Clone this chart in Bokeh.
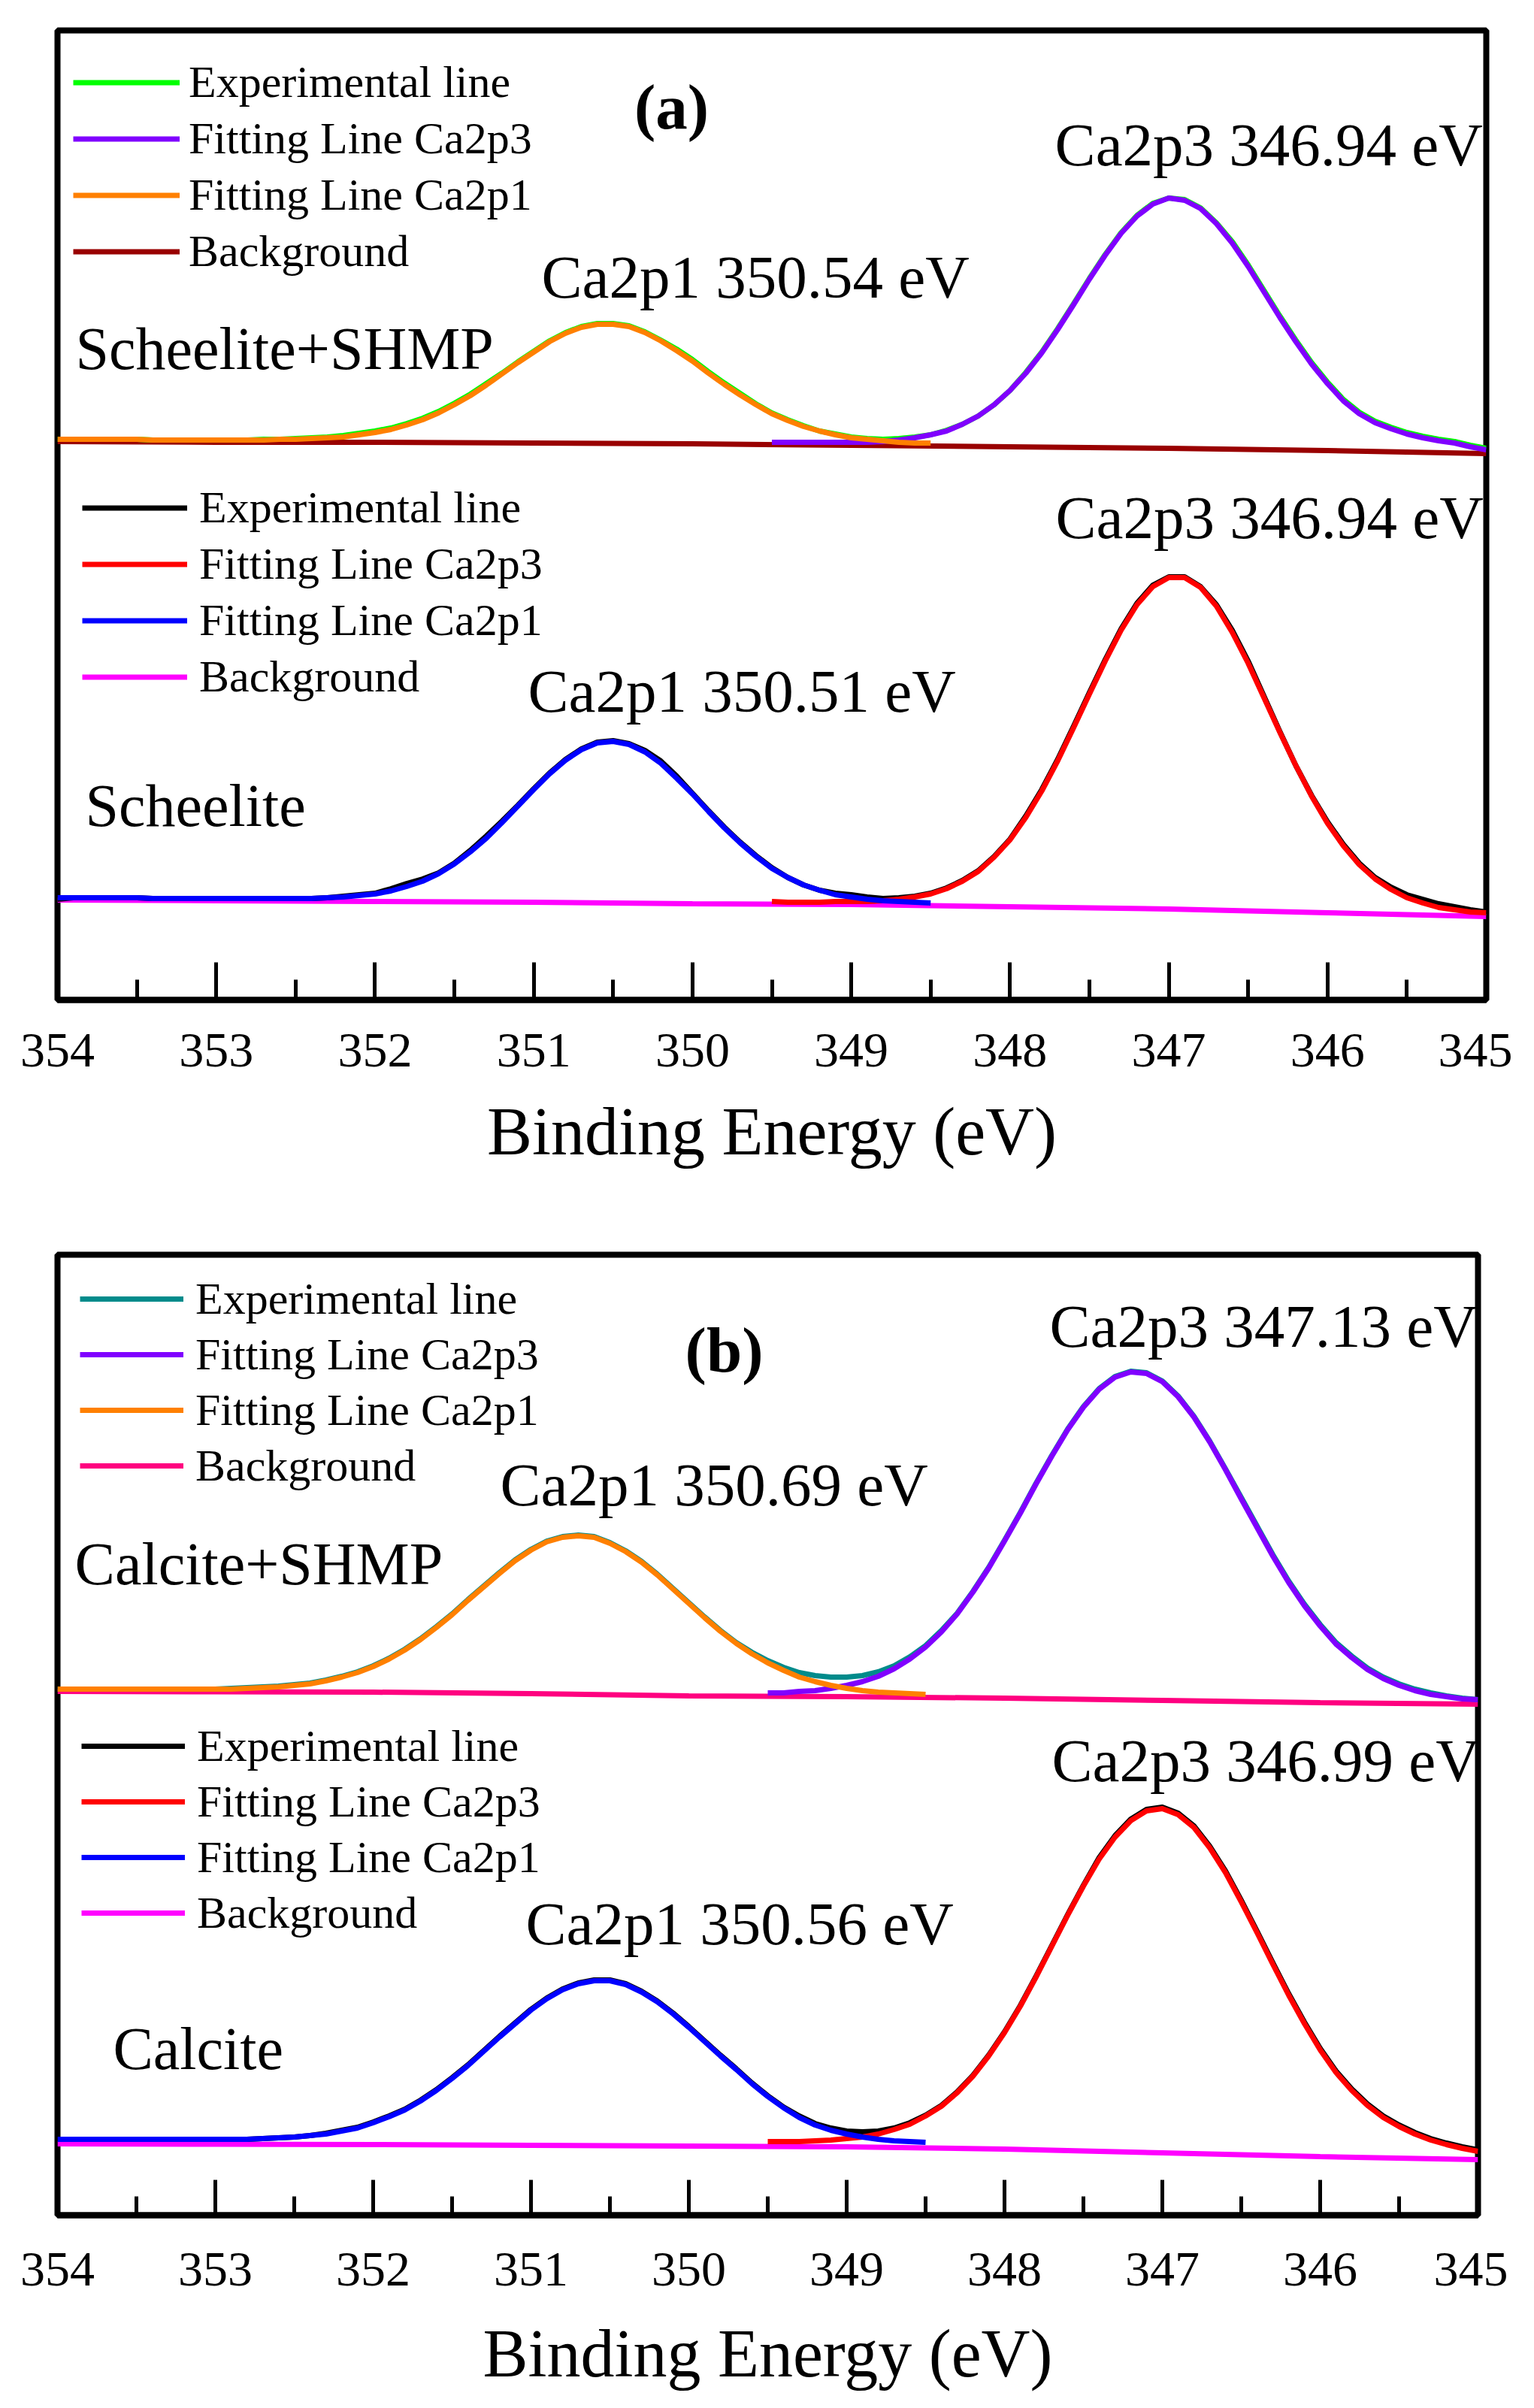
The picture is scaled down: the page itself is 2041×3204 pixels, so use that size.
from bokeh.plotting import figure
from bokeh.models import Range1d, FixedTicker, Label, Legend, LegendItem
from bokeh.layouts import column
from bokeh.embed import file_html
from bokeh.resources import INLINE

FONT = "Liberation Serif"

# binding energy grid of the spectra (eV)
energy = [354.0, 353.9, 353.8, 353.7, 353.6, 353.5, 353.4, 353.3, 353.2, 353.1,
          353.0, 352.9, 352.8, 352.7, 352.6, 352.5, 352.4, 352.3, 352.2, 352.1,
          352.0, 351.9, 351.8, 351.7, 351.6, 351.5, 351.4, 351.3, 351.2, 351.1,
          351.0, 350.9, 350.8, 350.7, 350.6, 350.5, 350.4, 350.3, 350.2, 350.1,
          350.0, 349.9, 349.8, 349.7, 349.6, 349.5, 349.4, 349.3, 349.2, 349.1,
          349.0, 348.9, 348.8, 348.7, 348.6, 348.5, 348.4, 348.3, 348.2, 348.1,
          348.0, 347.9, 347.8, 347.7, 347.6, 347.5, 347.4, 347.3, 347.2, 347.1,
          347.0, 346.9, 346.8, 346.7, 346.6, 346.5, 346.4, 346.3, 346.2, 346.1,
          346.0, 345.9, 345.8, 345.7, 345.6, 345.5, 345.4, 345.3, 345.2, 345.1,
          345.0]
p1_energy = energy[:56]   # 354.0 .. 348.5
p3_energy = energy[45:]   # 349.5 .. 345.0
bg_energy = [354, 353, 352, 351, 350, 349, 348, 347, 346, 345]

major_ticks = [354, 353, 352, 351, 350, 349, 348, 347, 346, 345]
minor_ticks = [353.5, 352.5, 351.5, 350.5, 349.5, 348.5, 347.5, 346.5, 345.5]

# (a) Scheelite+SHMP (intensity, arbitrary units)
a1_exp = [746, 746, 746, 746, 746, 746, 745, 745, 745, 745, 745,
          745, 745, 746, 746, 747, 748, 749, 751, 754, 757,
          761, 767, 774, 783, 794, 806, 820, 834, 849, 863,
          877, 888, 896, 900, 900, 897, 889, 878, 866, 852,
          836, 821, 807, 793, 781, 772, 764, 757, 753, 749,
          747, 746, 747, 749, 752, 758, 766, 777, 792, 811,
          835, 862, 893, 926, 960, 992, 1021, 1044, 1060, 1067,
          1065, 1054, 1034, 1009, 978, 944, 910, 878, 848, 822,
          799, 782, 770, 762, 755, 750, 746, 743, 738, 734]
a1_fit_p1 = [746, 746, 746, 746, 746, 746, 745, 745, 745, 745, 745,
             745, 745, 745, 746, 746, 747, 748, 749, 752, 755,
             759, 765, 772, 781, 792, 804, 818, 833, 848, 862,
             876, 887, 895, 899, 899, 896, 888, 877, 864, 850,
             834, 819, 805, 792, 780, 771, 763, 757, 752, 748,
             746, 744, 742, 741, 741]
a1_fit_p3 = [742, 742, 742, 742, 742, 742,
             742, 743, 745, 748, 752, 757, 766, 777, 792, 811,
             834, 861, 892, 925, 959, 991, 1020, 1043, 1059, 1067,
             1064, 1053, 1033, 1007, 976, 942, 908, 876, 846, 820,
             797, 780, 768, 760, 753, 748, 744, 741, 736, 732]
a1_bg = [743, 742, 742, 741, 740, 738, 736, 734, 731, 727]

# (a) Scheelite
a2_exp = [134, 136, 136, 136, 136, 136, 135, 135, 135, 135, 135,
          135, 135, 135, 135, 135, 135, 136, 138, 140, 142,
          148, 155, 161, 169, 182, 199, 218, 238, 259, 281,
          302, 320, 334, 343, 345, 341, 332, 318, 298, 275,
          252, 230, 210, 192, 176, 163, 153, 146, 142, 140,
          137, 135, 136, 138, 142, 149, 159, 172, 191, 214,
          245, 280, 320, 364, 409, 453, 494, 528, 552, 563,
          563, 550, 526, 492, 451, 404, 357, 312, 272, 237,
          207, 182, 163, 150, 140, 134, 128, 124, 120, 117]
a2_fit_p1 = [136, 136, 136, 136, 136, 136, 135, 135, 135, 135, 135,
             135, 135, 135, 135, 135, 135, 136, 137, 139, 141,
             145, 151, 158, 168, 181, 197, 215, 236, 258, 280,
             301, 319, 333, 342, 344, 340, 330, 315, 295, 274,
             251, 229, 209, 191, 175, 163, 153, 146, 140, 137,
             134, 132, 131, 130, 129]
a2_fit_p3 = [131, 130, 130, 130, 131, 131,
             131, 132, 134, 137, 141, 148, 158, 171, 190, 213,
             243, 278, 318, 362, 407, 451, 492, 526, 550, 562,
             562, 549, 524, 489, 448, 402, 356, 312, 271, 235,
             205, 180, 161, 147, 136, 129, 123, 120, 117, 116]
a2_bg = [133, 132, 131, 130, 128, 127, 124, 121, 116, 111]

# (b) Calcite+SHMP
b1_exp = [700, 700, 700, 700, 700, 700, 700, 700, 700, 700, 700,
          701, 702, 703, 704, 706, 708, 712, 717, 723, 731,
          741, 753, 767, 783, 800, 819, 837, 855, 872, 886,
          897, 903, 905, 903, 895, 884, 870, 853, 834, 815,
          796, 778, 762, 749, 738, 729, 722, 718, 716, 716,
          718, 723, 731, 743, 758, 778, 801, 830, 862, 898,
          935, 974, 1011, 1046, 1076, 1100, 1116, 1123, 1121, 1110,
          1090, 1063, 1030, 993, 955, 917, 879, 844, 813, 786,
          762, 744, 728, 716, 707, 700, 695, 691, 688, 686]
b1_fit_p1 = [700, 700, 700, 700, 700, 700, 700, 700, 700, 700, 700,
             700, 701, 702, 703, 705, 707, 711, 716, 722, 730,
             740, 752, 766, 782, 799, 818, 836, 854, 871, 885,
             896, 902, 904, 902, 894, 883, 869, 852, 833, 814,
             795, 777, 761, 747, 735, 725, 716, 710, 705, 701,
             698, 696, 695, 694, 693]
b1_fit_p3 = [695, 695, 697, 698, 701, 705,
             710, 717, 727, 740, 756, 776, 800, 829, 861, 897,
             934, 973, 1010, 1045, 1075, 1099, 1115, 1122, 1120, 1109,
             1089, 1062, 1029, 992, 953, 915, 877, 842, 811, 784,
             760, 742, 726, 714, 705, 698, 693, 690, 687, 686]
b1_bg = [697, 696.5, 696, 694, 691, 690, 688, 685, 682, 680]

# (b) Calcite
b2_exp = [101, 101, 101, 101, 101, 101, 101, 101, 101, 101, 101,
          101, 101, 102, 103, 104, 106, 109, 113, 117, 124,
          132, 141, 153, 167, 183, 200, 219, 238, 256, 274,
          289, 301, 309, 313, 313, 308, 298, 285, 269, 251,
          232, 213, 195, 176, 159, 144, 132, 122, 116, 112,
          111, 112, 116, 123, 133, 146, 164, 186, 213, 244,
          279, 318, 359, 400, 439, 476, 505, 527, 540, 543,
          535, 518, 491, 458, 419, 378, 336, 295, 257, 222,
          192, 168, 148, 132, 120, 110, 102, 96, 91, 87]
b2_fit_p1 = [101, 101, 101, 101, 101, 101, 101, 101, 101, 101, 101,
             101, 101, 102, 103, 104, 106, 108, 112, 116, 123,
             131, 140, 152, 166, 182, 199, 218, 237, 255, 273,
             288, 300, 308, 312, 312, 307, 297, 284, 268, 250,
             231, 212, 194, 175, 158, 143, 130, 120, 113, 108,
             104, 101, 99, 98, 97]
b2_fit_p3 = [98, 98, 98, 99, 100, 102,
             104, 108, 114, 121, 132, 145, 163, 185, 212, 243,
             278, 317, 358, 399, 438, 474, 503, 525, 538, 541,
             533, 516, 489, 456, 417, 376, 334, 293, 255, 220,
             190, 166, 146, 130, 118, 108, 100, 94, 89, 85]
b2_bg = [95, 94.5, 94, 93, 92, 91, 88, 83, 78, 74]

legend_labels = ["Experimental line", "Fitting Line Ca2p3", "Fitting Line Ca2p1", "Background"]


def make_panel(frame_w, frame_h, left, top, bottom, tick_in, minor_in, lab_off, title_off):
    p = figure(title=None, frame_width=frame_w, frame_height=frame_h,
               x_range=Range1d(354, 345), y_range=Range1d(0, frame_h),
               y_axis_location=None, output_backend="svg", toolbar_location=None,
               min_border_left=left, min_border_right=40,
               min_border_top=top, min_border_bottom=bottom)
    p.background_fill_color = "white"
    p.border_fill_color = "white"
    p.outline_line_color = "black"
    p.outline_line_width = 8
    p.xgrid.visible = False
    p.ygrid.visible = False
    ax = p.xaxis[0]
    ax.ticker = FixedTicker(ticks=major_ticks, minor_ticks=minor_ticks)
    ax.axis_line_width = 8
    ax.major_tick_line_width = 5
    ax.minor_tick_line_width = 5
    ax.major_tick_in = tick_in
    ax.major_tick_out = 0
    ax.minor_tick_in = minor_in
    ax.minor_tick_out = 0
    ax.major_label_text_font = FONT
    ax.major_label_text_font_size = "66px"
    ax.major_label_text_color = "black"
    ax.major_label_standoff = lab_off
    ax.axis_label = "Binding Energy (eV)"
    ax.axis_label_text_font = FONT
    ax.axis_label_text_font_size = "90px"
    ax.axis_label_text_font_style = "normal"
    ax.axis_label_text_color = "black"
    ax.axis_label_standoff = title_off
    return p


def add_spectrum(p, exp, fit_p3, fit_p1, bg, colors, loc, glyph_w, glyph_h, standoff):
    r_bg = p.line(bg_energy, bg, color=colors[3], line_width=7)
    r_exp = p.line(energy, exp, color=colors[0], line_width=7, line_join="round")
    r_p3 = p.line(p3_energy, fit_p3, color=colors[1], line_width=7, line_join="round")
    r_p1 = p.line(p1_energy, fit_p1, color=colors[2], line_width=7, line_join="round")
    items = [LegendItem(label=lab, renderers=[r])
             for lab, r in zip(legend_labels, [r_exp, r_p3, r_p1, r_bg])]
    legend = Legend(items=items, location=loc, glyph_width=glyph_w, glyph_height=glyph_h,
                    label_height=glyph_h, label_standoff=standoff, spacing=0, padding=0,
                    margin=0, border_line_color=None, background_fill_alpha=0,
                    label_text_font=FONT, label_text_font_size="60px",
                    label_text_color="black")
    p.add_layout(legend)


def add_text(p, x, y, text, size, bold=False, align="left"):
    p.add_layout(Label(x=x, y=y, text=text, text_font=FONT, text_font_size=size,
                       text_font_style="bold" if bold else "normal",
                       text_align=align, text_baseline="alphabetic", text_color="black"))


# panel (a)
pa = make_panel(1901, 1290, 71, 40, 282, 50, 27, 45, 34)
add_spectrum(pa, a1_exp, a1_fit_p3, a1_fit_p1, a1_bg,
             ["#00FF00", "#8000FF", "#FF8000", "#990000"], (21, 958), 142, 75, 12)
add_spectrum(pa, a2_exp, a2_fit_p3, a2_fit_p1, a2_bg,
             ["#000000", "#FF0000", "#0000FF", "#FF00FF"], (33, 392), 140, 75, 16)
add_text(pa, 350.132, 1189, "(a)", "85px", bold=True, align="center")
add_text(pa, 353.886, 867, "Scheelite+SHMP", "80px")
add_text(pa, 353.825, 259, "Scheelite", "80px")
add_text(pa, 350.951, 962, "Ca2p1 350.54 eV", "81px")
add_text(pa, 347.717, 1138, "Ca2p3 346.94 eV", "81px")
add_text(pa, 351.036, 411, "Ca2p1 350.51 eV", "81px")
add_text(pa, 347.713, 642, "Ca2p3 346.94 eV", "81px")

# panel (b)
pb = make_panel(1890, 1278, 76, 57, 235, 47, 25, 50, 38)
add_spectrum(pb, b1_exp, b1_fit_p3, b1_fit_p1, b1_bg,
             ["#008B8B", "#8000FF", "#FF8000", "#FF0080"], (30, 960), 138, 74, 16)
add_spectrum(pb, b2_exp, b2_fit_p3, b2_fit_p1, b2_bg,
             ["#000000", "#FF0000", "#0000FF", "#FF00FF"], (32, 365), 138, 74, 16)
add_text(pb, 349.776, 1152, "(b)", "85px", bold=True, align="center")
add_text(pb, 353.890, 867, "Calcite+SHMP", "80px")
add_text(pb, 353.648, 222, "Calcite", "80px")
add_text(pb, 351.195, 972, "Ca2p1 350.69 eV", "81px")
add_text(pb, 347.714, 1183, "Ca2p3 347.13 eV", "81px")
add_text(pb, 351.033, 388, "Ca2p1 350.56 eV", "81px")
add_text(pb, 347.700, 605, "Ca2p3 346.99 eV", "81px")

layout = column(pa, pb)
open("out.html", "w").write(file_html(layout, INLINE))
